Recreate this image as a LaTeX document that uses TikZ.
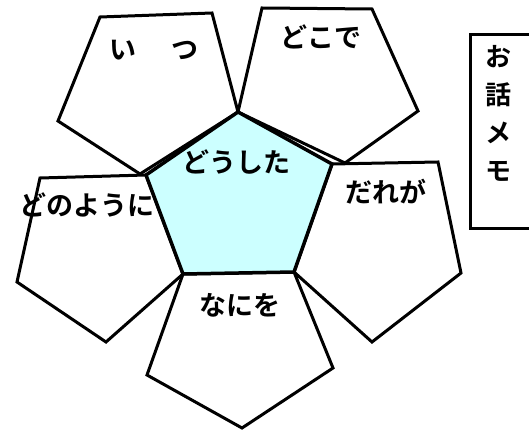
\documentclass[tikz,border=0pt]{standalone}
\usepackage{fontspec}
\newfontfamily\jpfont[BoldFont={Noto Sans CJK JP Bold}]{Noto Sans CJK JP}
\usepackage{tikz}
\usetikzlibrary{positioning}
\definecolor{coreblue}{HTML}{CCFFFF}

\tikzset{
  petal/.style={draw=black, line width=3pt, fill=white},
  core/.style={draw=black, line width=3.5pt, fill=coreblue},
  word/.style={font=\jpfont\bfseries\fontsize{27}{32}\selectfont, inner sep=0pt},
}

\begin{document}
\begin{tikzpicture}[x=1pt, y=-1pt]
  \useasboundingbox (0,0) rectangle (529,430);
  \clip (0,0) rectangle (529,430);

  % corners of the middle pentagon
  \coordinate (ctop)   at (238,112);
  \coordinate (cleft)  at (146,175);
  \coordinate (cright) at (332,164);
  \coordinate (cbl)    at (183,274);
  \coordinate (cbr)    at (294,272);

  % outer pentagons
  \draw[petal] (ctop) -- (212,13) -- (100,17) -- (58,121) -- (140,174) -- cycle;
  \draw[petal] (ctop) -- (262,8) -- (372,9) -- (418,111) -- (345,163) -- cycle;
  \draw[petal] (cright) -- (438,162) -- (461,273) -- (372,342) -- (cbr) -- cycle;
  \draw[petal] (cbl) -- (cbr) -- (333,368) -- (242,428) -- (147,375) -- cycle;
  \draw[petal] (cleft) -- (40,178) -- (17,282) -- (106,342) -- (cbl) -- cycle;

  % middle pentagon
  \draw[core] (ctop) -- (cright) -- (cbr) -- (cbl) -- (cleft) -- cycle;

  % labels
  \node[word] (when)  at (154,50)  {い\hspace{36pt}つ};
  \node[word] (where) at (321,37)  {どこで};
  \node[word] (what)  at (236,162) {どうした};
  \node[word] (who)   at (386,192) {だれが};
  \node[word] (how)   at (87,205)  {どのように};
  \node[word] (obj)   at (240,305) {なにを};

  % memo box on the right
  \node[draw, line width=3pt, minimum width=80pt, minimum height=194pt,
        anchor=north west, inner sep=0pt] (memo) at (469,33) {};
  \node[word, align=center, font=\jpfont\bfseries\fontsize{26}{38}\selectfont]
        (memotext) at (498,113) {お\\話\\メ\\モ};
\end{tikzpicture}
\end{document}
